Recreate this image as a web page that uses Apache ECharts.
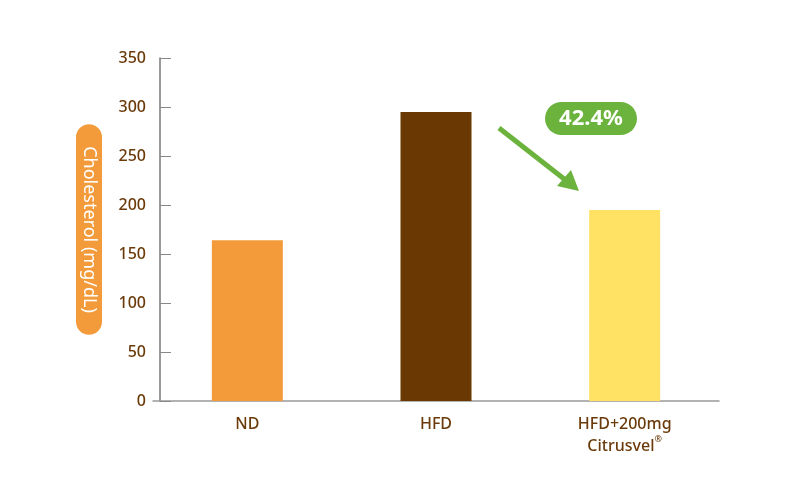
<!DOCTYPE html>
<html><head><meta charset="utf-8">
<script src="https://cdn.jsdelivr.net/npm/echarts@6/dist/echarts.min.js"></script>
<style>html,body{margin:0;padding:0;background:#fff}#c{width:800px;height:500px}</style>
</head><body><div id="c"></div>
<script>
const categories = ['ND', 'HFD', 'HFD+200mg\nCitrusvel®'];
const values = [164, 295, 195];
const barColors = ['#f39b3a', '#6a3803', '#ffe264'];
const yTicks = [0, 50, 100, 150, 200, 250, 300, 350];
const badgeText = '42.4%';
const yName = 'Cholesterol (mg/dL)';

const chart = echarts.init(document.getElementById('c'));
const brown = '#6b3a0a';
chart.setOption({
  animation: false,
  grid: { left: 153, right: 81, top: 58, bottom: 99, containLabel: false },
  xAxis: {
    type: 'category', data: categories,
    axisLine: { lineStyle: { color: '#999', width: 1.5 } },
    axisTick: { show: false },
    axisLabel: {
      color: brown, fontSize: 16, fontFamily: 'Noto Sans', fontWeight: 500, margin: 12, lineHeight: 22,
      formatter: v => v.replace('®', '{r|®}'),
      rich: { r: { fontSize: 9, verticalAlign: 'top', color: brown, fontFamily: 'Noto Sans', padding: [0, 0, 4, 0] } }
    }
  },
  yAxis: {
    type: 'value', min: yTicks[0], max: yTicks[yTicks.length - 1], interval: 50, offset: -7,
    name: yName, nameLocation: 'middle', nameRotate: -90, nameGap: 58,
    nameTextStyle: { color: '#fff', fontSize: 18, fontFamily: 'Noto Sans', backgroundColor: '#f39b3a', borderRadius: 13, padding: [3, 22, 3, 22], lineHeight: 20 },
    axisLine: { show: true, lineStyle: { color: '#777', width: 1.5 } },
    axisTick: { show: true, inside: true, length: 11, lineStyle: { color: '#888' } },
    splitLine: { show: false },
    axisLabel: { color: brown, fontSize: 16, fontFamily: 'Noto Sans', fontWeight: 500, margin: 14 }
  },
  series: [{
    type: 'bar', barWidth: 71,
    data: values.map((v, i) => ({ value: v, itemStyle: { color: barColors[i] } }))
  }],
  graphic: [
    { type: 'rect', shape: { x: 545, y: 102, width: 92, height: 33, r: 16.5 }, style: { fill: '#6cb33e' } },
    { type: 'text', x: 591, y: 119, style: { text: badgeText, fill: '#fff', font: 'bold 22px "Noto Sans"', align: 'center', verticalAlign: 'middle' } },
    { type: 'line', shape: { x1: 499, y1: 128, x2: 568, y2: 182 }, style: { stroke: '#6cb33e', lineWidth: 5 } },
    { type: 'polygon', shape: { points: [[579, 191], [557, 186], [571, 170]] }, style: { fill: '#6cb33e' } }
  ]
});
</script></body></html>
